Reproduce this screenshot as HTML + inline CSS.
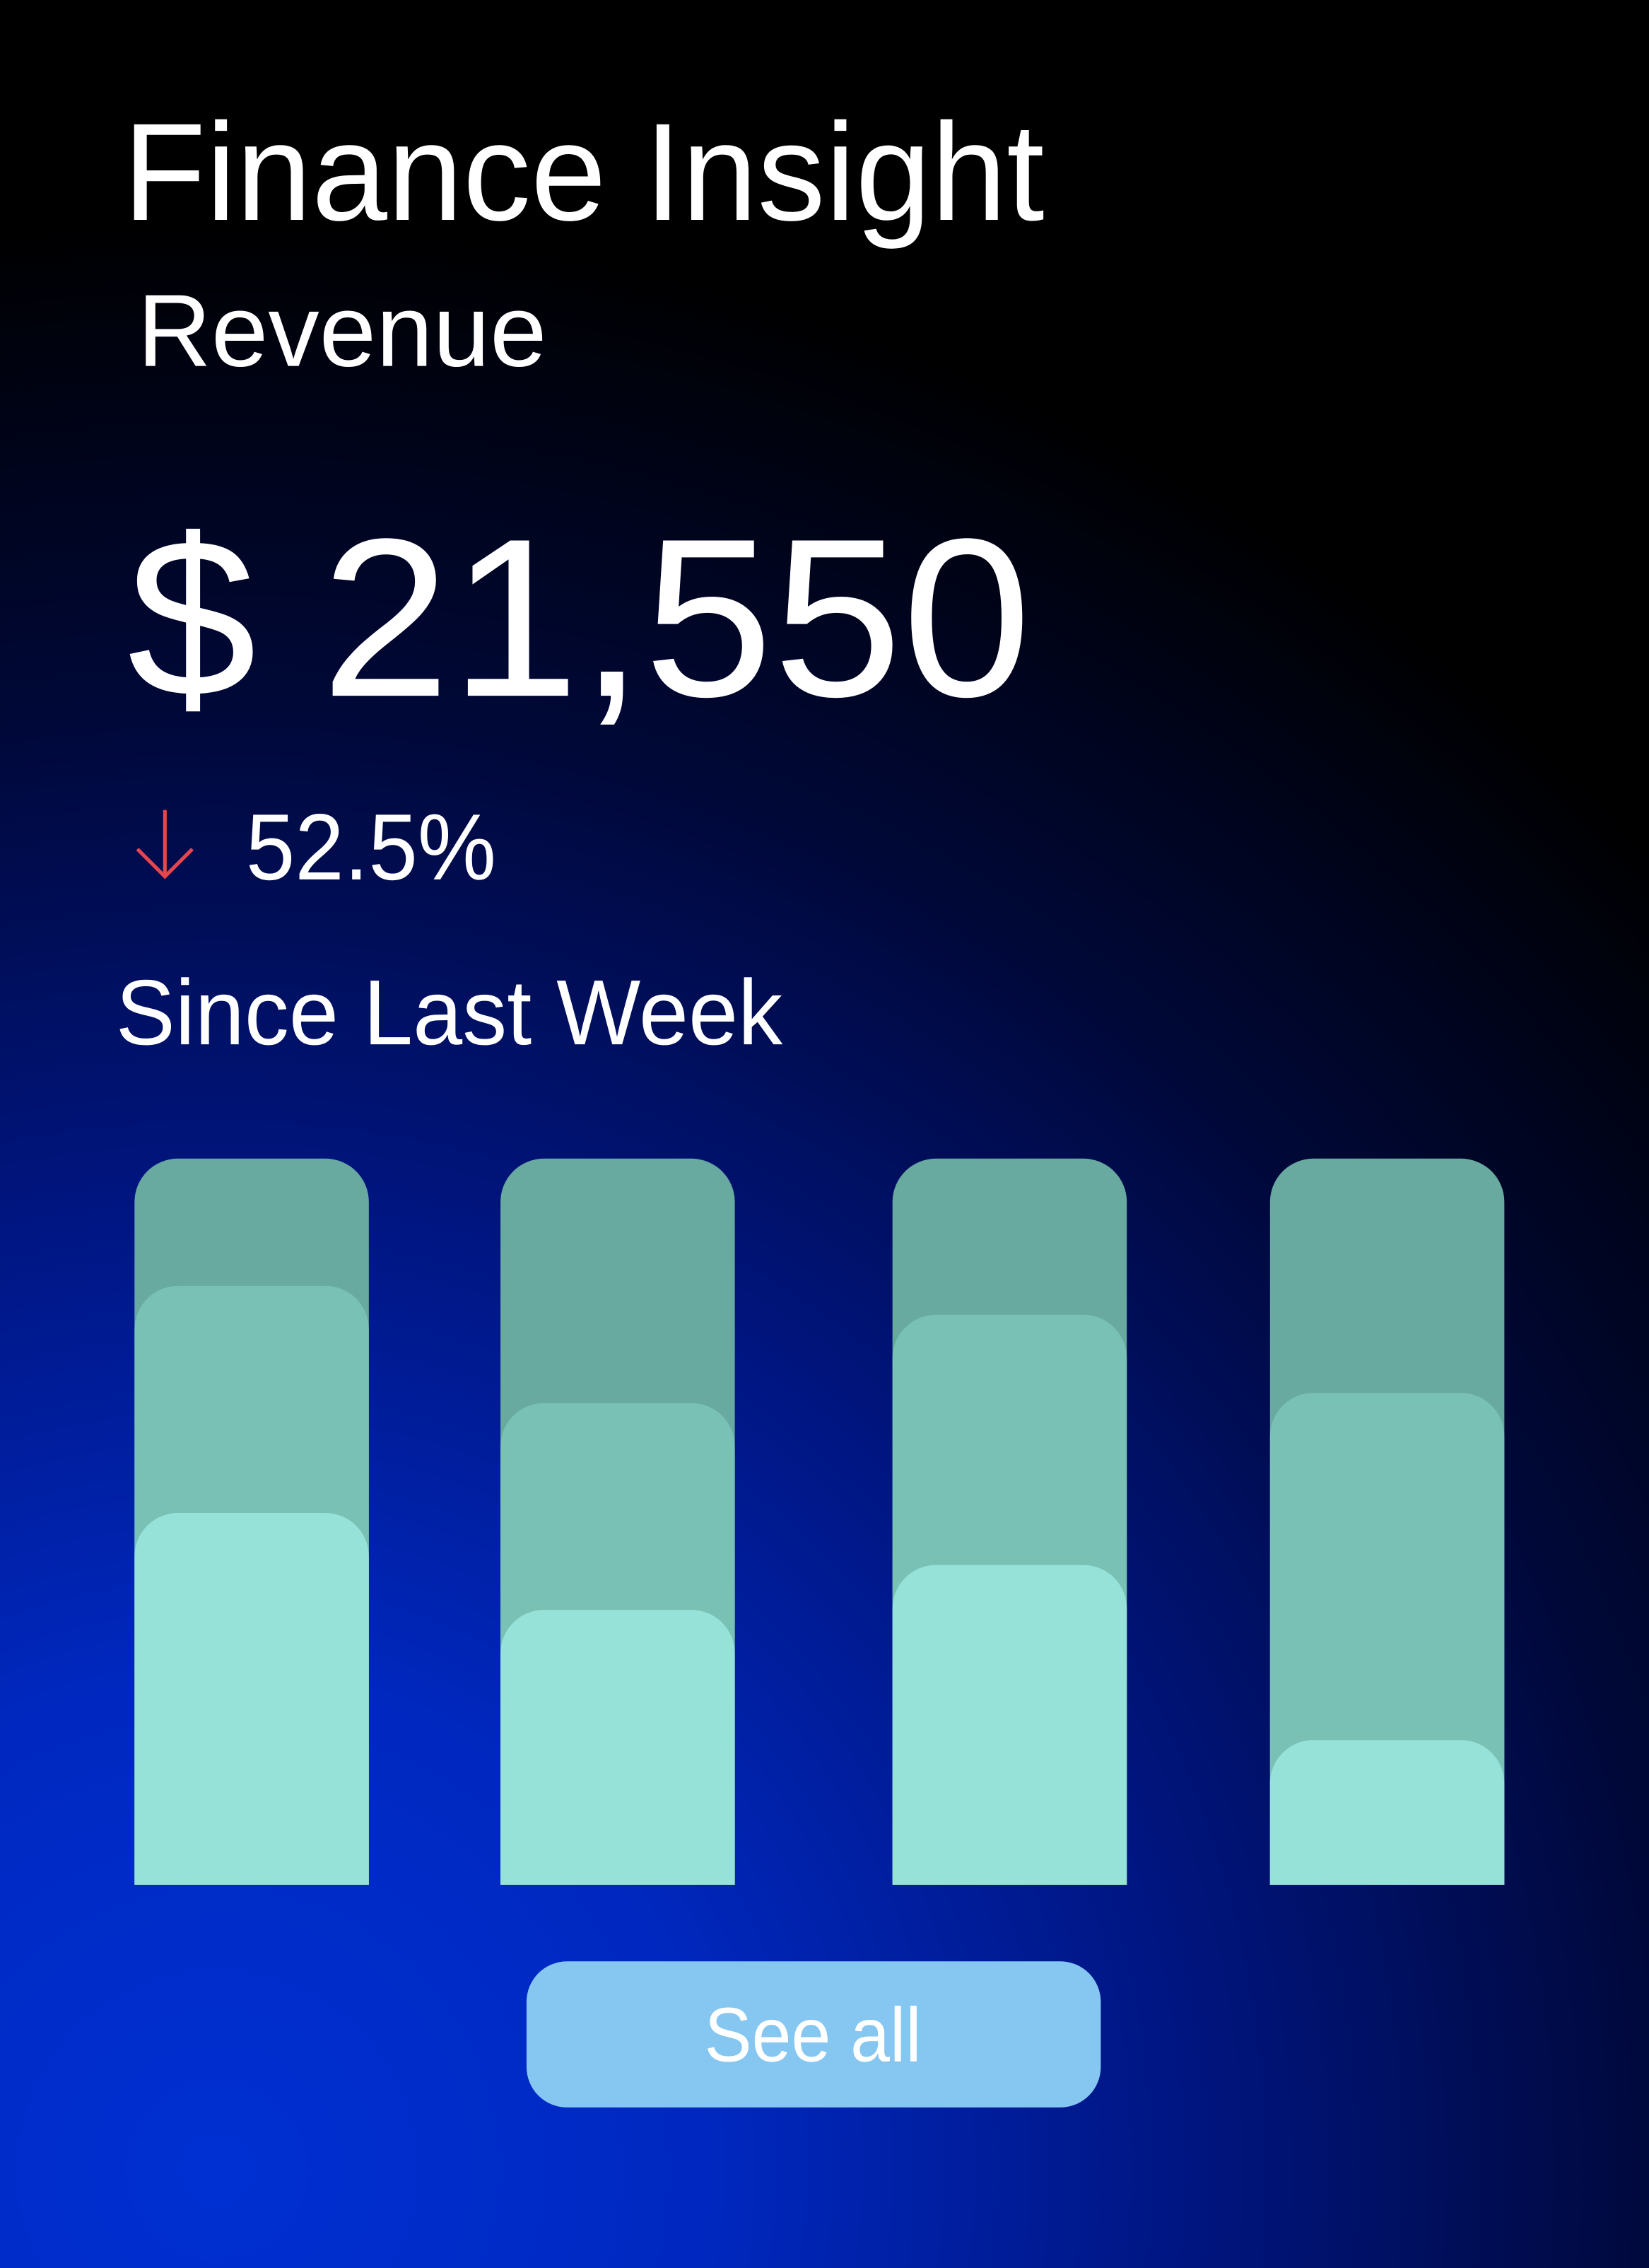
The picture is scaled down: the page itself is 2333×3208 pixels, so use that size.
<!DOCTYPE html>
<html><head><meta charset="utf-8"><style>
html,body{margin:0;padding:0;background:#000;}
svg{display:block;}
</style></head><body>
<svg width="2333" height="3208" viewBox="0 0 1140 1568" preserveAspectRatio="none" xmlns="http://www.w3.org/2000/svg">
<defs>
<radialGradient id="bg" cx="150" cy="1500" r="1350" gradientUnits="userSpaceOnUse">
<stop offset="0" stop-color="#0030d2"/>
<stop offset="0.25" stop-color="#0028c0"/>
<stop offset="0.5" stop-color="#001580"/>
<stop offset="0.75" stop-color="#000838"/>
<stop offset="1" stop-color="#000000"/>
</radialGradient>
</defs>
<rect x="0" y="0" width="1140" height="1568" fill="url(#bg)"/>
<g font-family="Liberation Sans, sans-serif" fill="#ffffff">
<text x="85" y="152" font-size="96" textLength="637" lengthAdjust="spacingAndGlyphs">Finance Insight</text>
<text x="95" y="253" font-size="71" textLength="283" lengthAdjust="spacingAndGlyphs">Revenue</text>
<text x="88" y="481" font-size="156" textLength="625" lengthAdjust="spacingAndGlyphs">$ 21,550</text>
<text x="170" y="608" font-size="65" textLength="173" lengthAdjust="spacingAndGlyphs">52.5%</text>
<text x="80" y="722" font-size="64" textLength="461" lengthAdjust="spacingAndGlyphs">Since Last Week</text>
</g>
<g stroke="#e8454f" stroke-width="2.5" fill="none">
<line x1="114" y1="560" x2="114" y2="606"/>
<polyline points="95,587 114,606 133,587"/>
</g>
<g>
<path d="M93,1303 V831 a30,30 0 0 1 30,-30 H225 a30,30 0 0 1 30,30 V1303 Z" fill="#68a9a0"/>
<path d="M93,1303 V919 a30,30 0 0 1 30,-30 H225 a30,30 0 0 1 30,30 V1303 Z" fill="#79c0b5"/>
<path d="M93,1303 V1076 a30,30 0 0 1 30,-30 H225 a30,30 0 0 1 30,30 V1303 Z" fill="#96e2d9"/>
<path d="M346,1303 V831 a30,30 0 0 1 30,-30 H478 a30,30 0 0 1 30,30 V1303 Z" fill="#68a9a0"/>
<path d="M346,1303 V1000 a30,30 0 0 1 30,-30 H478 a30,30 0 0 1 30,30 V1303 Z" fill="#79c0b5"/>
<path d="M346,1303 V1143 a30,30 0 0 1 30,-30 H478 a30,30 0 0 1 30,30 V1303 Z" fill="#96e2d9"/>
<path d="M617,1303 V831 a30,30 0 0 1 30,-30 H749 a30,30 0 0 1 30,30 V1303 Z" fill="#68a9a0"/>
<path d="M617,1303 V939 a30,30 0 0 1 30,-30 H749 a30,30 0 0 1 30,30 V1303 Z" fill="#79c0b5"/>
<path d="M617,1303 V1112 a30,30 0 0 1 30,-30 H749 a30,30 0 0 1 30,30 V1303 Z" fill="#96e2d9"/>
<path d="M878,1303 V831 a30,30 0 0 1 30,-30 H1010 a30,30 0 0 1 30,30 V1303 Z" fill="#68a9a0"/>
<path d="M878,1303 V993 a30,30 0 0 1 30,-30 H1010 a30,30 0 0 1 30,30 V1303 Z" fill="#79c0b5"/>
<path d="M878,1303 V1233 a30,30 0 0 1 30,-30 H1010 a30,30 0 0 1 30,30 V1303 Z" fill="#96e2d9"/>
</g>
<rect x="364" y="1356" width="397" height="101" rx="28" ry="28" fill="#86c7f2"/>
<text x="487" y="1425" font-family="Liberation Sans, sans-serif" font-size="53" fill="#ffffff" textLength="150" lengthAdjust="spacingAndGlyphs">See all</text>
</svg>
</body></html>
